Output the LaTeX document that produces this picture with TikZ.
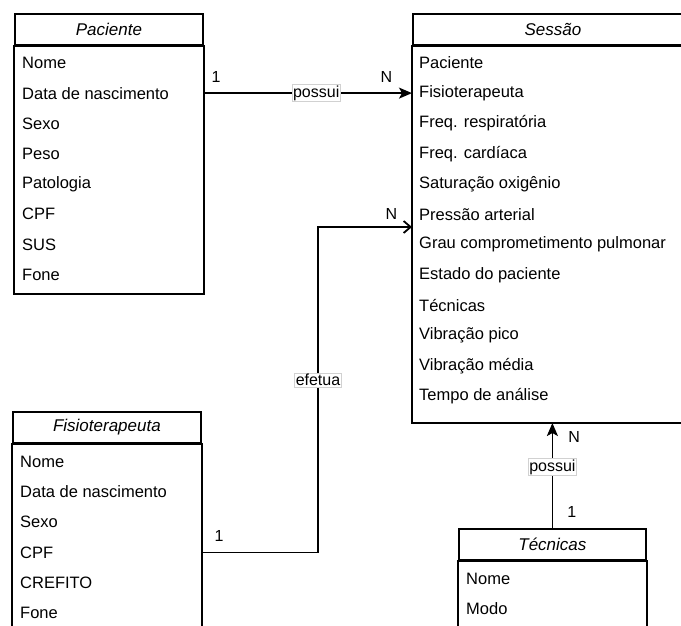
\documentclass[tikz,border=0pt]{standalone}
\usepackage{fontspec}
\setmainfont{Liberation Sans}
\usetikzlibrary{arrows.meta,calc}

\tikzset{
  entity/.style={draw, line width=1.8pt, anchor=north west, inner sep=0pt,
    minimum height=31pt, font=\fontsize{17}{20}\selectfont\itshape},
  frame/.style={line width=1.8pt},
  attr/.style={anchor=west, inner sep=0pt, font=\fontsize{16.5}{19}\selectfont},
  rel/.style={line width=1.8pt},
  card/.style={inner sep=0pt, font=\fontsize{16}{19}\selectfont},
  tag/.style={draw=black!18, line width=0.6pt, fill=white, inner sep=1pt,
    font=\fontsize{16}{19}\selectfont}
}

\begin{document}
\begin{tikzpicture}[x=1pt,y=-1pt]
    \useasboundingbox (0,0) rectangle (681,625);
    \clip (0,0) rectangle (681,625);

    % Paciente
    \node[entity, minimum width=188pt] (pac) at (14,13) {Paciente};
    \draw[frame] (pac.south west) rectangle (pac.east |- 0,294);
    \foreach \t [count=\i] in {Nome,Data de nascimento,Sexo,Peso,Patologia,CPF,SUS,Fone}
        \node[attr] (pac\i) at ($(pac.south west)+(8,{17+30.3*(\i-1)})$) {\t};

    % Sessao
    \node[entity, minimum width=280pt] (ses) at (412,13) {Sessão};
    \draw[frame] (ses.south west) rectangle (ses.east |- 0,423);
    \coordinate (sesbot) at (412,423);
    \foreach \t [count=\i] in {Paciente,Fisioterapeuta,Freq. respiratória,Freq. cardíaca,
        Saturação oxigênio,Pressão arterial,Grau comprometimento pulmonar,Estado do paciente,
        Técnicas,Vibração pico,Vibração média,Tempo de análise}
        \node[attr] (ses\i) at ($(ses.south west)+(7,{17+30.3*(\i-1)})$) {\t};

    % Fisioterapeuta
    \node[entity, minimum width=188pt] (fis) at (12,411) {Fisioterapeuta};
    \draw[frame] (fis.south west) rectangle (fis.east |- 0,640);
    \foreach \t [count=\i] in {Nome,Data de nascimento,Sexo,CPF,CREFITO,Fone}
        \node[attr] (fis\i) at ($(fis.south west)+(8,{18+30.2*(\i-1)})$) {\t};

    % Tecnicas
    \node[entity, minimum width=187pt] (tec) at (458,528) {Técnicas};
    \draw[frame] (tec.south west) rectangle (tec.east |- 0,640);
    \foreach \t [count=\i] in {Nome,Modo}
        \node[attr] (tec\i) at ($(tec.south west)+(8,{18+30.2*(\i-1)})$) {\t};

    % relacionamentos
    \draw[rel, -{Stealth[length=13pt,width=11pt,inset=3pt]}] (pac2 -| pac.east)
        -- node[tag, pos=0.54] {possui}
           node[card, pos=0, anchor=south west, xshift=7pt, yshift=10pt] {1}
           node[card, pos=1, anchor=south east, xshift=-19pt, yshift=10pt] {N}
        (ses2 -| ses.west);

    \coordinate (bend) at (318,227);
    \coordinate (sesin) at (412,227);
    \draw[rel, -{Straight Barb[length=7pt,width=12pt]}] (fis4 -| fis.east)
        -| node[card, pos=0, anchor=south west, xshift=12pt, yshift=10pt] {1}
        (bend) -- node[card, pos=1, anchor=south east, xshift=-14pt, yshift=7pt] {N} (sesin);
    \node[tag] (efetua) at (318,380) {efetua};

    \draw[rel, -{Stealth[length=13pt,width=11pt,inset=3pt]}] (tec.north)
        -- node[tag, pos=0.58] {possui}
           node[card, pos=0, anchor=south west, xshift=14pt, yshift=10pt] {1}
           node[card, pos=1, anchor=north west, xshift=15pt, yshift=-8pt] {N}
        (tec.north |- sesbot);
\end{tikzpicture}
\end{document}
